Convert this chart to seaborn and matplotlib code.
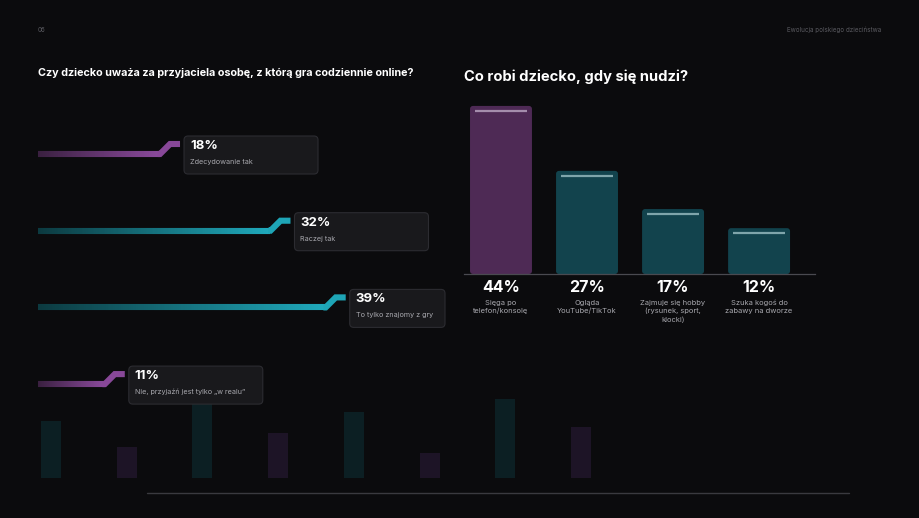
import matplotlib
matplotlib.use("Agg")
import matplotlib.pyplot as plt
import numpy as np
import pandas as pd
import seaborn as sns
from matplotlib.collections import LineCollection
from matplotlib.colors import LinearSegmentedColormap
from matplotlib.patches import FancyBboxPatch

# ---- data ----
friend_labels = ["Zdecydowanie tak", "Raczej tak", "To tylko znajomy z gry", "Nie, przyjaźń jest tylko „w realu”"]
friend_values = [18, 32, 39, 11]
friend_tone = ["purple", "teal", "teal", "purple"]

bored_labels = ["Sięga po\ntelefon/konsolę", "Ogląda\nYouTube/TikTok", "Zajmuje się hobby\n(rysunek, sport,\nklocki)", "Szuka kogoś do\nzabawy na dworze"]
bored_values = [44, 27, 17, 12]
bored_tone = ["purple", "teal", "teal", "teal"]

deco_values = [57, 31, 78, 45, 66, 25, 79, 51]
deco_tone = ["teal", "purple"] * 4

BG = "#0b0b0d"
BAR_COL = {"purple": "#4e2a55", "teal": "#12434d"}
HI_COL = {"purple": "#a48dac", "teal": "#7fa5ab"}
DECO_COL = {"purple": "#1d1426", "teal": "#0c1f23"}
GRAD = {"purple": ("#3a2040", "#8b4a9c"), "teal": ("#0c3a40", "#1fa9bb")}

sns.set_theme(style="white")
plt.rcParams["font.family"] = ["Inter", "DejaVu Sans"]

fig = plt.figure(figsize=(9.2, 5.18), dpi=100, facecolor=BG)
W, H = 920, 518


def px_axes(x0, y0, x1, y1):
    # axes placed by pixel box (top-left origin)
    return fig.add_axes([x0 / W, 1 - y1 / H, (x1 - x0) / W, (y1 - y0) / H])


# overlay in pixel space for frames / header
bg = fig.add_axes([0, 0, 1, 1], zorder=0)
bg.set_xlim(0, W)
bg.set_ylim(H, 0)
bg.axis("off")

bg.text(38, 30, "06", color="#5a5a60", fontsize=4.5, va="center")
bg.text(881, 30, "Ewolucja polskiego dzieciństwa", color="#5a5a60", fontsize=4.5, va="center", ha="right")
bg.text(38, 73, "Czy dziecko uważa za przyjaciela osobę, z którą gra codziennie online?",
        color="white", fontsize=7.8, fontweight="bold", va="center")
bg.text(464, 77, "Co robi dziecko, gdy się nudzi?", color="white", fontsize=10.6, fontweight="bold", va="center")
bg.plot([147, 849], [493, 493], color="#3a3a3f", lw=1.0)

# ---- decorative background bars ----
axd = px_axes(13, 378, 619, 478)
axd.set_zorder(1)
deco_df = pd.DataFrame({"i": range(len(deco_values)), "v": deco_values, "t": deco_tone})
sns.barplot(data=deco_df, x="i", y="v", hue="t", palette=DECO_COL, width=0.264, saturation=1,
            dodge=False, legend=False, ax=axd, linewidth=0)
axd.set_xlim(-0.5, 7.5)
axd.set_ylim(0, 100)
axd.axis("off")

# ---- left: step lines ----
PX = 7.89  # pixels per percent
axl = px_axes(38, 115.65, 460, 422.45)
axl.set_zorder(2)
axl.set_xlim(0, 422 / PX)
axl.set_ylim(3.5, -0.5)
axl.axis("off")
dx20, dx10 = 20 / PX, 10 / PX
rise = 10 / 76.7
for row, (val, tone) in enumerate(zip(friend_values, friend_tone)):
    xs = np.linspace(0, val - dx20, 150)
    pts = np.column_stack([xs, np.full_like(xs, row)])
    segs = np.stack([pts[:-1], pts[1:]], axis=1)
    cmap = LinearSegmentedColormap.from_list(tone, GRAD[tone])
    lc = LineCollection(segs, cmap=cmap, linewidths=4.4, capstyle="butt")
    lc.set_array(np.linspace(0, 0.93, len(segs)))
    axl.add_collection(lc)
    # step up at the end
    axl.plot([val - dx20 - 0.3, val - dx20, val - dx10, val], [row, row, row - rise, row - rise],
             color=cmap(0.96), lw=4.4, solid_joinstyle="miter", solid_capstyle="butt")

# label boxes anchored to line ends
fig.canvas.draw()
renderer = fig.canvas.get_renderer()
for row, (val, lab) in enumerate(zip(friend_values, friend_labels)):
    dx, dy = axl.transData.transform((val, row - rise))
    x0 = dx + 4
    y0 = (H - dy) - 8
    t = bg.text(x0 + 6, y0 + 3, lab, fontsize=5.2, va="top")
    tw = t.get_window_extent(renderer).width
    t.remove()
    bw = min(max(134, tw + 14), 445 - x0)
    box = FancyBboxPatch((x0, y0), bw, 38, boxstyle="round,pad=0,rounding_size=4",
                         fc="#19191c", ec="#2c2c31", lw=0.8, zorder=3)
    bg.add_patch(box)
    bg.text(x0 + 6, y0 + 10, f"{val}%", color="white", fontsize=9.5, fontweight="bold",
            va="center", zorder=4)
    bg.text(x0 + 6, y0 + 26, lab, color="#a8a8ae", fontsize=5.2, va="center", zorder=4)
bg.set_zorder(3)
bg.patch.set_visible(False)

# ---- right: bar chart ----
axr = px_axes(464, 274 - 47 * 3.82, 815, 274)
axr.set_zorder(2)
bored_df = pd.DataFrame({"cat": bored_labels, "v": bored_values, "t": bored_tone})
sns.barplot(data=bored_df, x="cat", y="v", hue="t", palette=BAR_COL, width=0.72, saturation=1,
            dodge=False, legend=False, ax=axr, linewidth=0)
axr.set_xlim(-0.43, 3.65)
axr.set_ylim(0, 47)
axr.set_facecolor("none")
for s in ["top", "right", "left"]:
    axr.spines[s].set_visible(False)
axr.spines["bottom"].set_color("#4a4a50")
axr.spines["bottom"].set_linewidth(0.9)
axr.set_xticks([])
axr.set_yticks([])
axr.set_xlabel("")
axr.set_ylabel("")

# rounded bars + highlight strokes
for p in list(axr.patches):
    x, w, h = p.get_x(), p.get_width(), p.get_height()
    fc = p.get_facecolor()
    p.remove()
    axr.add_patch(FancyBboxPatch((x, 0), w, h, boxstyle="round,pad=0,rounding_size=0.035",
                                 mutation_aspect=22.4, fc=fc, ec="none", zorder=2))
for i, (val, tone) in enumerate(zip(bored_values, bored_tone)):
    axr.plot([i - 0.36 + 0.06, i + 0.36 - 0.06], [val - 1.35, val - 1.35],
             color=HI_COL[tone], lw=1.6, solid_capstyle="butt", zorder=3)
    axr.annotate(f"{val}%", xy=(i, 0), xytext=(0, -9.5), textcoords="offset points",
                 ha="center", va="center", color="white", fontsize=11.5, fontweight="bold",
                 annotation_clip=False)
    axr.annotate(bored_labels[i], xy=(i, 0), xytext=(0, -18.5), textcoords="offset points",
                 ha="center", va="top", color="#a8a8ae", fontsize=5.4, linespacing=1.35,
                 annotation_clip=False)

fig.savefig("out.png", dpi=100, facecolor=BG)
